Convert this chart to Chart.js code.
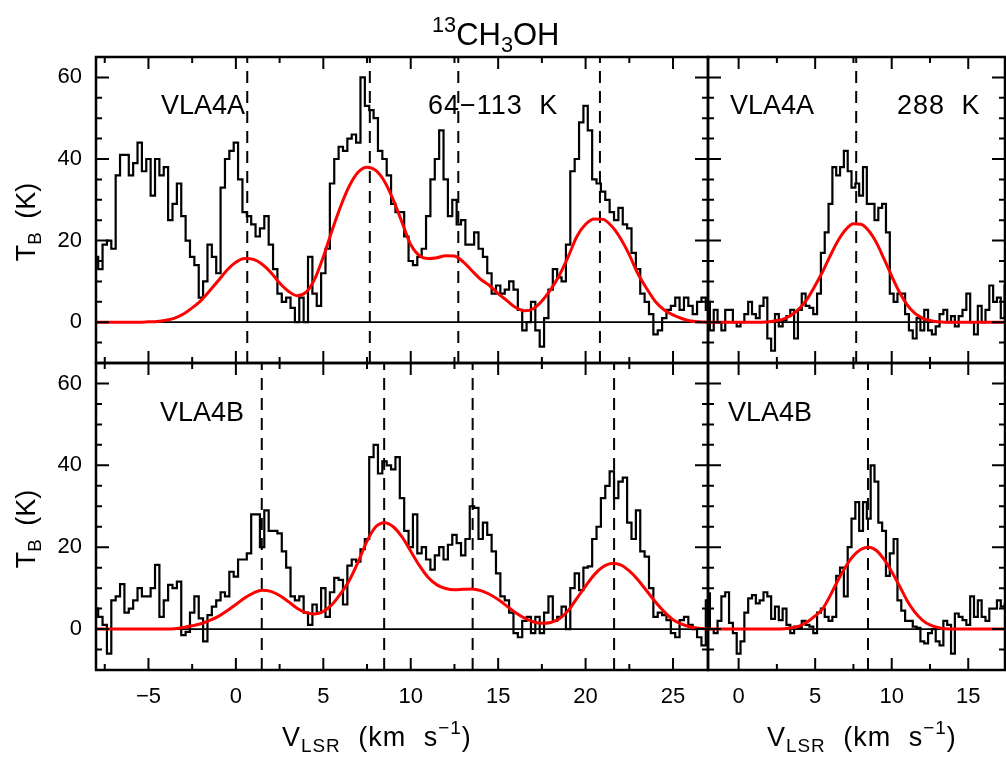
<!DOCTYPE html>
<html>
<head>
<meta charset="utf-8">
<title>13CH3OH spectra</title>
<script src="https://cdn.jsdelivr.net/npm/chart.js@4.4.1/dist/chart.umd.min.js"></script>
<style>
  body { margin: 0; background: #fff; }
  #fig { position: relative; width: 1006px; height: 759px; overflow: hidden;
         font-family: "Liberation Sans", Arial, sans-serif; color: #000; }
  #fig canvas { position: absolute; left: 0; top: 0; }
  .lbl { position: absolute; white-space: nowrap; font-size: 27px; line-height: 1; }
  .sup { font-size: 0.7em; position: relative; top: -0.62em; }
  .sub { font-size: 0.7em; position: relative; top: 0.32em; }
  .ylab { transform: translate(-50%, -50%) rotate(-90deg); word-spacing: 6px; }
  .xlab { letter-spacing: 1px; word-spacing: 9px; }
</style>
</head>
<body>
<div id="fig">
  <canvas id="cTL" width="1006" height="759"></canvas>
  <canvas id="cTR" width="1006" height="759"></canvas>
  <canvas id="cBL" width="1006" height="759"></canvas>
  <canvas id="cBR" width="1006" height="759"></canvas>

  <div class="lbl" style="left:432px;top:19px;font-size:31px"><span class="sup">13</span>CH<span class="sub">3</span>OH</div>

  <div class="lbl" style="left:161px;top:92px">VLA4A</div>
  <div class="lbl" style="left:428px;top:92px;letter-spacing:1px;word-spacing:8px">64−113 K</div>
  <div class="lbl" style="left:730px;top:92px">VLA4A</div>
  <div class="lbl" style="left:897px;top:92px;letter-spacing:1px;word-spacing:8px">288 K</div>
  <div class="lbl" style="left:160px;top:399px">VLA4B</div>
  <div class="lbl" style="left:728px;top:399px">VLA4B</div>

  <div class="lbl ylab" style="left:26px;top:222px">T<span class="sub">B</span> (K)</div>
  <div class="lbl ylab" style="left:26px;top:529px">T<span class="sub">B</span> (K)</div>

  <div class="lbl xlab" style="left:282px;top:724px">V<span class="sub">LSR</span> (km s<span class="sup">−1</span>)</div>
  <div class="lbl xlab" style="left:767px;top:724px">V<span class="sub">LSR</span> (km s<span class="sup">−1</span>)</div>
</div>

<script>
// ---- channel grids ----
const CHAN = 0.25;        // spectrum channel width (km/s)
const MODEL_STEP = 0.5;   // sampling of the fitted model (km/s)
const leftV0 = -8, rightV0 = -2;

// ---- axis ticks ----
const leftXTicks  = [-7.5, -5, -2.5, 0, 2.5, 5, 7.5, 10, 12.5, 15, 17.5, 20, 22.5, 25];
const rightXTicks = [0, 2.5, 5, 7.5, 10, 12.5, 15];
const yTicks = [-5, 0, 5, 10, 15, 20, 25, 30, 35, 40, 45, 50, 55, 60];

// ---- VLA4A, 64-113 K ----
const specTL = [
  16, 13, 19, 20, 18, 36, 41, 41, 36, 39,
  44, 37, 40, 31, 40, 36, 38, 25, 29, 34,
  26, 20, 16, 14, 6, 10, 19, 16, 12, 33,
  40, 42, 44, 35, 27, 26, 24, 21, 23, 26,
  19, 13, 7, 5, 6, 3.5, 0,
  6, 0, 16, 7, 4, 12, 18, 34, 40, 43,
  42, 45, 46, 44, 60, 53, 52, 50, 42, 40,
  36, 29, 27, 27, 21, 15, 14, 16, 18, 26,
  35, 40, 47, 35, 26, 30, 24, 25, 19, 19,
  22, 18, 16, 12, 7, 9, 7,
  8, 10, 8, 3, -2, 0, 5, -2, -6, 1,
  8, 13, 11, 10, 19, 37, 40, 49, 53, 47,
  35, 34, 32, 30, 27, 25, 28, 24, 23, 17,
  13, 7, 5, 2, -3, -2, 1, 3, 4, 6,
  3, 6, 4, 2, 5, 6, 3
];
const modelTL = [
  0, 0, 0, 0, 0, 0, 0.1, 0.2, 0.5, 1.0,
  2.0, 3.5, 5.3, 7.7, 10.2, 12.8, 14.7, 15.6, 15.4, 14.2,
  12.2, 9.6, 7.6, 6.5, 7.3, 10.5, 16, 22.5, 28.5, 33.5,
  36.8, 38, 37.2, 34.5, 30, 24.5, 19, 16.3, 15.6, 15.8,
  16.3, 16.2, 14.8, 12.6, 10.5, 9, 7, 5.3, 3.6, 2.8,
  3.3, 5.2, 8, 11.5, 16, 21, 24, 25.3, 25.2, 23.5,
  20.5, 16.5, 11.8, 8.2, 5.0, 3.0, 1.8, 0.9, 0.3, 0.1, 0
];
const linesTL = [0.65, 7.66, 12.72, 20.82];

// ---- VLA4A, 288 K ----
const specTR = [
  5, -2, 3, 0, -2, 3, 3, 0, -1, 0,
  2, 5, 2, 1, 4, 6, -4, -7, 2, -1,
  0.5, 1.5, 3, -4, 3, 7, 4, 3.5, 2, 7,
  17, 22, 29, 38, 36, 38, 42, 37, 33, 34,
  31, 38, 29, 29, 25, 28, 29, 22, 7, 5,
  7, 7, 2, -2, -4, 1, -2, 3, -2, -3,
  -1, 2, 3, 0, 1.5, -1, 1.5, 3, 7, 0,
  -3, 4, 0, 3, 9, 5, 6, 1, 9
];
const modelTR = [
  0, 0, 0, 0, 0, 0, 0, 0, 0.1, 0.4,
  0.9, 1.9, 3.5, 5.8, 9, 12.5, 16.4, 20, 22.7, 24.1,
  24, 22.4, 19.5, 15.5, 11.3, 7.4, 4.3, 2.2, 1.0, 0.4,
  0.1, 0, 0, 0, 0, 0, 0, 0, 0, 0
];
const linesTR = [7.68];

// ---- VLA4B, 64-113 K ----
const specBL = [
  5, 3, 1, -6, 7, 8, 11, 4, 5, 7,
  10, 8, 8, 10, 15.7, 3, 7, 10.8, 10, 11.6,
  -1.5, -0.7, 4, 8, 2.6, -3, 3.4, 5.5, 7, 9,
  8, 14, 12.8, 17, 17, 18.5, 28, 28, 20, 29,
  24, 24, 23.4, 19, 15, 8, 7,
  8, 4, 1, 6, 4, 10, 3, 9, 12.5, 12,
  6, 15.5, 17, 16.5, 19.5, 22, 42, 45, 38, 41,
  40, 39, 42, 32, 24, 20, 28, 18.5, 20, 17,
  14.5, 18, 20, 17, 20.6, 23, 21, 18, 22, 30,
  29.6, 22, 26, 23, 19, 13.6, 8,
  7, 4, -1, -2, 2, 3, -1, 3, -1, 4,
  8, 2, 3, 5.5, 0, 10, 13.6, 9.5, 15, 15.3,
  22, 25, 32, 35, 38.5, 32, 36, 37, 26, 22,
  29, 19, 17.7, 10, 3, 4, 3.4, 2.2, -1, -2,
  2.2, 3, 1, 0, -2, -4, 7
];
const modelBL = [
  0, 0, 0, 0, 0, 0, 0, 0, 0, 0.1,
  0.4, 0.8, 1.3, 2.1, 3.1, 4.5, 6, 7.6, 8.8, 9.5,
  9.2, 8.2, 6.7, 5.1, 4.0, 3.7, 4.3, 6.0, 8.7, 12,
  16.5, 21.5, 25, 26, 25, 22.5, 19, 15.5, 12.6, 10.8,
  9.9, 9.6, 9.7, 9.8, 9.4, 8.5, 7.2, 5.6, 4.0, 2.7,
  1.8, 1.4, 1.6, 2.5, 4.5, 7.5, 10.5, 13.3, 15.2, 16,
  15.7, 14.2, 12, 9.3, 6.6, 4.2, 2.3, 1.2, 0.5, 0.2, 0
];
const linesBL = [1.48, 8.48, 13.54, 21.63];

// ---- VLA4B, 288 K ----
const specBR = [
  8.7, 0, -1, 2, 8, 9, 1.5, -1, -6, -3,
  4, 7.5, 8.3, 6.3, 7, 9, 8, 2.5, 5.5, 2.2,
  5, 1, -1, 0.6, 0.3, 2, 1, 0.6, -1, 4,
  5, 3, 2, 3, 13, 15, 8, 20, 27, 31,
  24, 31, 27, 40, 36, 26, 24, 13, 18.5, 22,
  7, 4.5, 2, 2, 0.6, 0.3, -3, -3.5, -1, 0,
  -3, -4, 2, 1, -6, 3.8, 3, 2.2, 1, 8,
  3, 7, 3, 2, 5, 5, 7, 5.5, 6
];
const modelBR = [
  0, 0, 0, 0, 0, 0, 0, 0, 0, 0,
  0.1, 0.3, 0.8, 1.8, 3.2, 5, 8.3, 12, 15.3, 17.9,
  19.5, 20, 19.2, 17, 14, 10.6, 7, 4.2, 2.2, 1.0,
  0.4, 0.1, 0, 0, 0, 0, 0, 0, 0, 0
];
const linesBR = [8.45];

Chart.defaults.font.family = '"Liberation Sans", Arial, sans-serif';
Chart.defaults.font.size = 22;
Chart.defaults.color = '#000';

const tickFont = { family: '"Liberation Sans", Arial, sans-serif', size: 22 };

function fmt(v) {
  return v < 0 ? '\u2212' + Math.abs(v) : String(v);
}

// frame with inward tick marks, like the original plot
const frame = {
  id: 'frame',
  afterDatasetsDraw(chart) {
    const { ctx, chartArea: a, scales: { x, y } } = chart;
    ctx.save();
    ctx.strokeStyle = '#000';
    ctx.lineWidth = 2;
    ctx.beginPath();
    x.ticks.forEach(t => {
      const px = x.getPixelForValue(t.value);
      const len = t.value % 5 === 0 ? 12 : 6;
      ctx.moveTo(px, a.bottom); ctx.lineTo(px, a.bottom - len);
      ctx.moveTo(px, a.top); ctx.lineTo(px, a.top + len);
    });
    y.ticks.forEach(t => {
      const py = y.getPixelForValue(t.value);
      const len = t.value % 20 === 0 ? 13 : 6;
      ctx.moveTo(a.left, py); ctx.lineTo(a.left + len, py);
      ctx.moveTo(a.right, py); ctx.lineTo(a.right - len, py);
    });
    ctx.stroke();
    ctx.lineWidth = 2.5;
    ctx.strokeRect(a.left, a.top, a.right - a.left, a.bottom - a.top);
    ctx.restore();
  }
};

function makePanel(id, o) {
  const datasets = [
    {
      data: o.model.map((t, i) => ({ x: o.v0 + i * MODEL_STEP, y: t })),
      borderColor: '#ff0000', borderWidth: 3, pointRadius: 0,
      cubicInterpolationMode: 'monotone', order: 0
    },
    {
      data: o.spec.map((t, i) => ({ x: o.v0 + i * CHAN, y: t })),
      borderColor: '#000', borderWidth: 2.2, pointRadius: 0,
      stepped: 'middle', order: 1
    },
    ...o.lines.map(v => ({
      data: [{ x: v, y: -10 }, { x: v, y: 65 }],
      borderColor: '#000', borderWidth: 2, borderDash: [12, 8], pointRadius: 0, order: 2
    })),
    {
      data: [{ x: o.xmin, y: 0 }, { x: o.xmax, y: 0 }],
      borderColor: '#000', borderWidth: 1.7, pointRadius: 0, order: 3
    }
  ];

  return new Chart(document.getElementById(id), {
    type: 'line',
    data: { datasets },
    options: {
      responsive: false,
      animation: false,
      events: [],
      layout: { padding: o.pad },
      plugins: { legend: { display: false }, tooltip: { enabled: false } },
      scales: {
        x: {
          type: 'linear', min: o.xmin, max: o.xmax,
          grid: { display: false, drawTicks: false },
          border: { display: false },
          afterBuildTicks: s => { s.ticks = o.xticks.map(v => ({ value: v })); },
          afterFit: s => { s.height = o.xh; },
          ticks: {
            font: tickFont, color: '#000',
            padding: 14, autoSkip: false, maxRotation: 0,
            callback: v => (o.xlab && v % 5 === 0) ? fmt(v) : ''
          }
        },
        y: {
          type: 'linear', min: -10, max: 65,
          grid: { display: false, drawTicks: false },
          border: { display: false },
          afterBuildTicks: s => { s.ticks = yTicks.map(v => ({ value: v })); },
          afterFit: s => { s.width = o.yw; },
          ticks: {
            font: tickFont, color: '#000',
            padding: 14, autoSkip: false,
            callback: v => (o.ylab && v % 20 === 0 && v >= 0) ? fmt(v) : ''
          }
        }
      }
    },
    plugins: [frame]
  });
}

makePanel('cTL', { spec: specTL, model: modelTL, lines: linesTL, v0: leftV0, xmin: -8, xmax: 27,
  xticks: leftXTicks, pad: { left: 0, top: 57, right: 298, bottom: 0 }, yw: 96, xh: 396, xlab: false, ylab: true });
makePanel('cTR', { spec: specTR, model: modelTR, lines: linesTR, v0: rightV0, xmin: -2, xmax: 17.4,
  xticks: rightXTicks, pad: { left: 0, top: 57, right: 1, bottom: 0 }, yw: 708, xh: 396, xlab: false, ylab: false });
makePanel('cBL', { spec: specBL, model: modelBL, lines: linesBL, v0: leftV0, xmin: -8, xmax: 27,
  xticks: leftXTicks, pad: { left: 0, top: 363, right: 298, bottom: 0 }, yw: 96, xh: 89, xlab: true, ylab: true });
makePanel('cBR', { spec: specBR, model: modelBR, lines: linesBR, v0: rightV0, xmin: -2, xmax: 17.4,
  xticks: rightXTicks, pad: { left: 0, top: 363, right: 1, bottom: 0 }, yw: 708, xh: 89, xlab: true, ylab: false });
</script>
</body>
</html>
